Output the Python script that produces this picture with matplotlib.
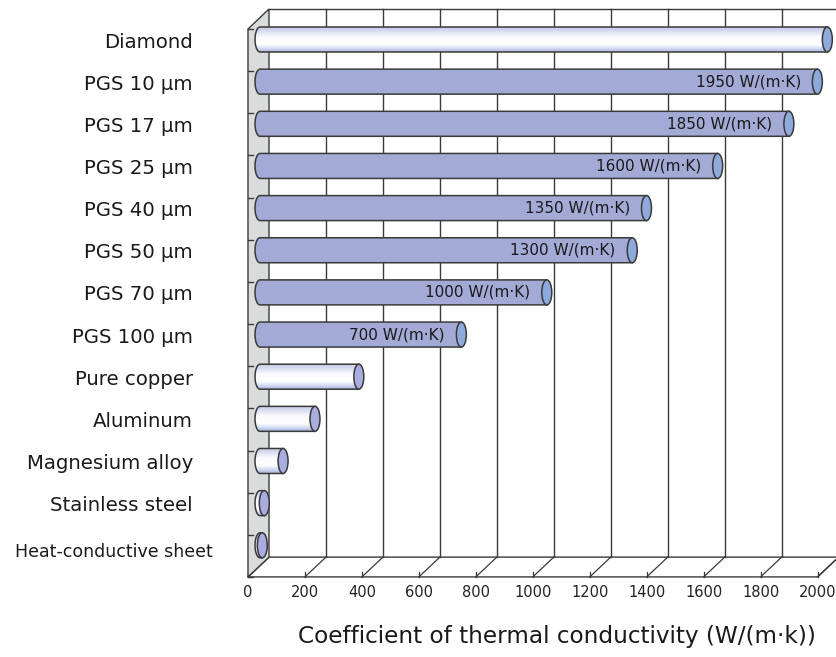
import numpy as np
import matplotlib
matplotlib.use("Agg")
import matplotlib.pyplot as plt
from matplotlib.patches import Polygon, Ellipse, PathPatch
from matplotlib.path import Path
from matplotlib.colors import LinearSegmentedColormap

# datos
materials = ["Diamond", "PGS 10 µm", "PGS 17 µm", "PGS 25 µm", "PGS 40 µm", "PGS 50 µm",
             "PGS 70 µm", "PGS 100 µm", "Pure copper", "Aluminum", "Magnesium alloy",
             "Stainless steel", "Heat-conductive sheet"]
conductivity = [1985, 1950, 1850, 1600, 1350, 1300, 1000, 700, 340, 186, 74, 8, 1]
is_pgs = [False, True, True, True, True, True, True, True, False, False, False, False, False]
ticks = [0, 200, 400, 600, 800, 1000, 1200, 1400, 1600, 1800, 2000]

# estilo / geometria del efecto 3D
W, H = 837, 657
SX, X0 = 0.2848, 262.0      # px por unidad, px del cero
SY, Y0 = 42.15, 39.5        # px por fila, px de la primera fila
BACK_DX, FRONT_DX = 24.6, -49.2
BACK_TOP, BACK_BOT = -0.724, 12.28
FRONT_TOP, FRONT_BOT = -0.249, 12.75
BASE = -7
CAP_W, BAR_H = 35, 0.593
EDGE = "#3a3a3a"
PGS_COLOR = "#a4aad6"
PGS_CAP = "#8eaadc"
WHITE_CAP = "#a9addf"

fig = plt.figure(figsize=(W / 100, H / 100), dpi=100)
ax = fig.add_axes([0, 0, 1, 1])
ax.axis("off")

# pared lateral
wall = Polygon([(FRONT_DX, FRONT_TOP), (BACK_DX, BACK_TOP), (BACK_DX, BACK_BOT), (FRONT_DX, FRONT_BOT)],
               closed=True, facecolor="#dadcdc", edgecolor=EDGE, lw=1.0, zorder=2)
ax.add_patch(wall)

# suelo
floor = Polygon([(FRONT_DX, FRONT_BOT), (ticks[-1] + FRONT_DX, FRONT_BOT),
                 (ticks[-1] + BACK_DX, BACK_BOT), (BACK_DX, BACK_BOT)],
                closed=True, facecolor="white", edgecolor=EDGE, lw=1.0, zorder=1)
ax.add_patch(floor)

# linea superior del fondo
ax.plot([BACK_DX, 3000], [BACK_TOP, BACK_TOP], color=EDGE, lw=1.0, zorder=1)

# rejilla
for t in ticks[1:]:
    ax.plot([t + BACK_DX, t + BACK_DX], [BACK_TOP, BACK_BOT], color=EDGE, lw=1.0, zorder=1)
for t in ticks:
    ax.plot([t + FRONT_DX, t + BACK_DX], [FRONT_BOT, BACK_BOT], color=EDGE, lw=0.9, zorder=1.5)
    ax.plot([t + FRONT_DX, t + FRONT_DX], [FRONT_BOT, FRONT_BOT - 0.12], color=EDGE, lw=0.9, zorder=1.5)
    ax.text(t + FRONT_DX, 13.13, str(t), ha="center", va="center", fontsize=10.5, color="#222222")

# marcas en la pared
for k in range(len(materials) + 1):
    yk = FRONT_TOP + k
    ax.plot([FRONT_DX, FRONT_DX + 17], [yk, yk], color=EDGE, lw=1.0, zorder=2.5)

grad = LinearSegmentedColormap.from_list(
    "cyl", [(0, "#a6b5e0"), (0.12, "#d0d8f0"), (0.3, "#ffffff"), (0.6, "#fbfbfe"), (1, "#c2c9e8")])
gradient = np.linspace(0, 1, 64).reshape(-1, 1)

a = CAP_W / 2
b = BAR_H / 2
for i, (name, v, pgs) in enumerate(zip(materials, conductivity, is_pgs)):
    yc = i
    th = np.linspace(np.pi / 2, 3 * np.pi / 2, 40)
    pts = [(BASE + a * np.cos(t), yc + b * np.sin(t)) for t in th]
    pts += [(v, yc - b), (v, yc + b), pts[0]]
    body = Path(pts, closed=True)
    z = 3 + i * 0.1
    if pgs:
        ax.add_patch(PathPatch(body, facecolor=PGS_COLOR, edgecolor=EDGE, lw=1.1, zorder=z))
        cap = PGS_CAP
    else:
        patch = PathPatch(body, facecolor="none", edgecolor=EDGE, lw=1.1, zorder=z + 0.01)
        ax.add_patch(patch)
        im = ax.imshow(gradient, cmap=grad, aspect="auto", extent=[BASE - a, v, yc - b, yc + b],
                       origin="upper", interpolation="bilinear", zorder=z)
        im.set_clip_path(patch)
        cap = PGS_CAP if name == "Diamond" else WHITE_CAP
    ax.add_patch(Ellipse((v, yc), CAP_W, BAR_H, facecolor=cap, edgecolor=EDGE, lw=1.1, zorder=z + 0.02))
    if pgs:
        ax.text(v - 58, yc, f"{v} W/(m·K)", ha="right", va="center", fontsize=11,
                color="#1a1a1a", zorder=z + 0.03)

    # etiqueta de categoria
    if name == "Heat-conductive sheet":
        ax.text(213 / W, yc + 0.15, name, transform=ax.get_yaxis_transform(),
                ha="right", va="center", fontsize=12.5, color="#1a1a1a")
    else:
        ax.text(193 / W, yc + 0.06, name, transform=ax.get_yaxis_transform(),
                ha="right", va="center", fontsize=14.2, color="#1a1a1a")

ax.text(557 / W, 1 - 636 / H, "Coefficient of thermal conductivity (W/(m·k))",
        transform=ax.transAxes, ha="center", va="center", fontsize=16.7, color="#1a1a1a")

ax.set_xlim((0 - X0) / SX, (W - X0) / SX)
ax.set_ylim((H - Y0) / SY, (0 - Y0) / SY)

fig.savefig("out.png", dpi=100)
